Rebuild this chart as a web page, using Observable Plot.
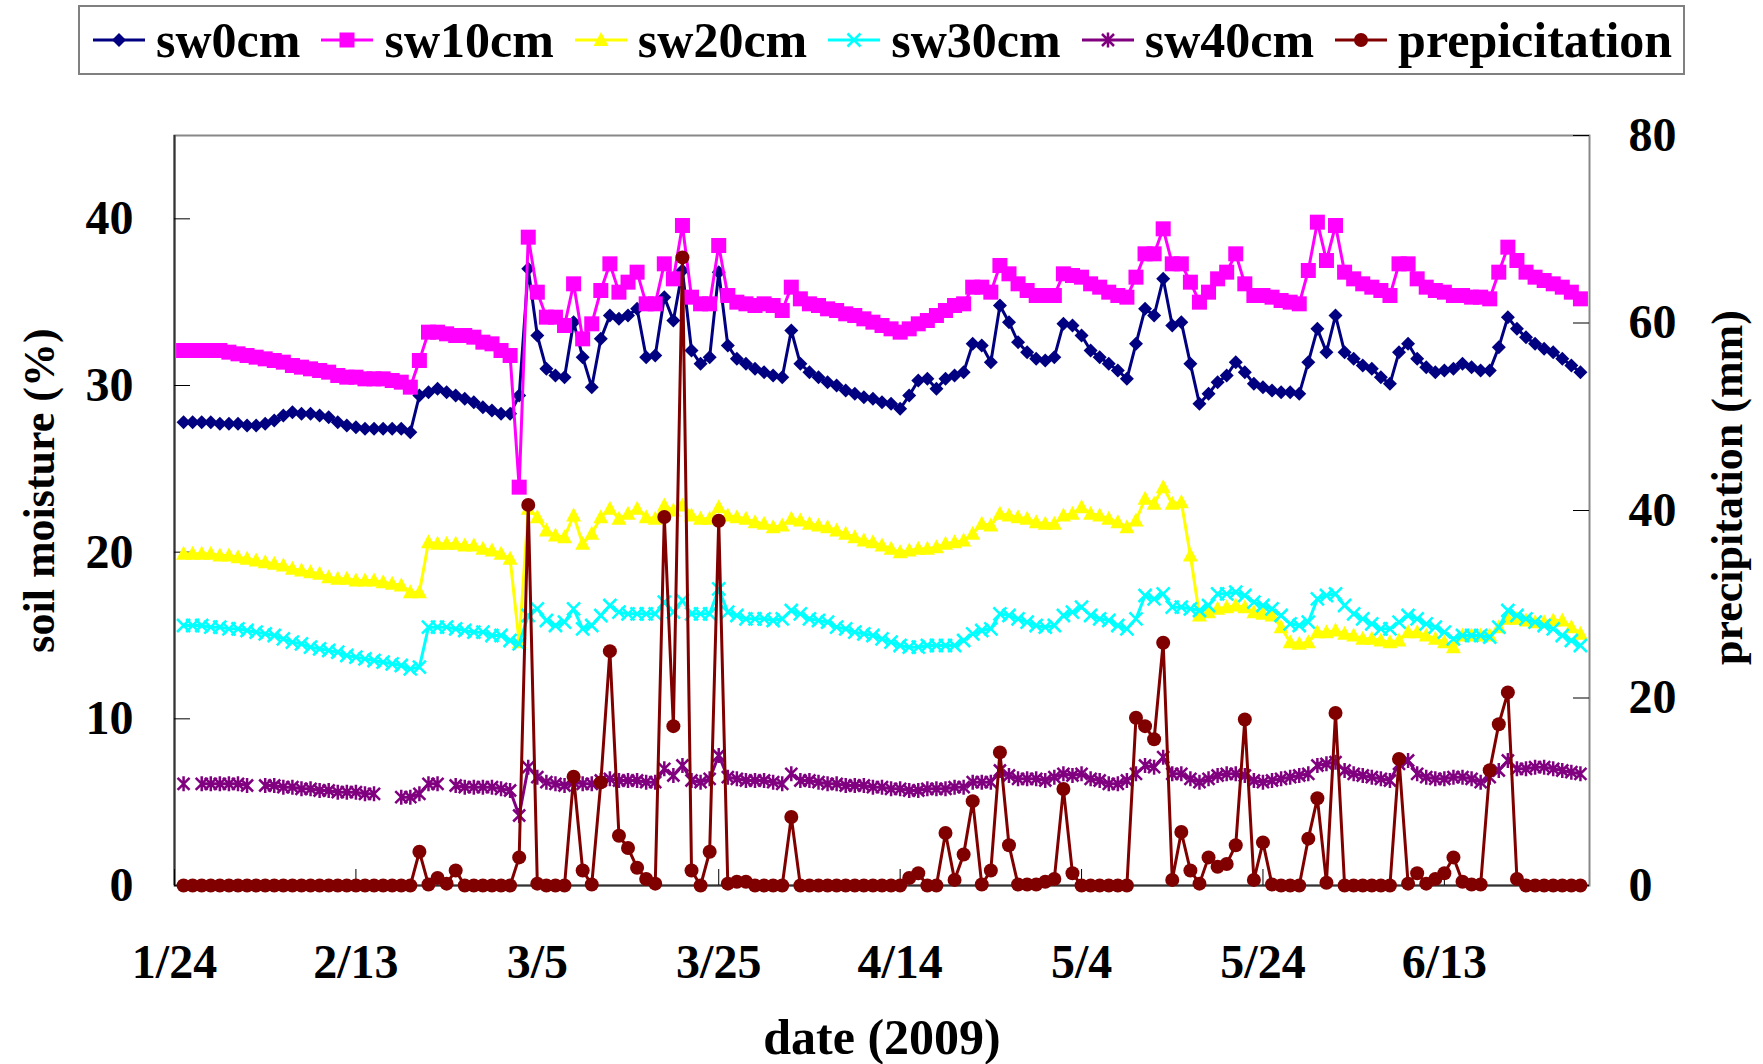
<!DOCTYPE html>
<html><head><meta charset="utf-8">
<script src="https://cdn.jsdelivr.net/npm/d3@7"></script>
<script src="https://cdn.jsdelivr.net/npm/@observablehq/plot@0.6"></script>
<style>
body{margin:0;background:#fff;}
#wrap{width:1763px;height:1064px;position:relative;overflow:hidden;background:#fff;font-family:'Liberation Serif','Times New Roman',serif;font-weight:bold;}
#legendBar{height:80px;position:relative;}
#legend{position:absolute;left:78px;top:5px;width:1607px;height:70px;box-sizing:border-box;border:2px solid #808080;display:flex;align-items:center;padding-left:13px;gap:21px;font-size:50px;line-height:1;}
.item{display:flex;align-items:center;gap:11px;}
.item svg{display:block;overflow:visible;}
</style></head><body>
<div id="wrap"><div id="legendBar"><div id="legend"></div></div><div id="chart"></div></div>
<script>
// ---- data (daily, starting 2009-01-25) ----
const startDate = "2009-01-25";
const sw0 = [27.8,27.8,27.8,27.8,27.7,27.7,27.7,27.6,27.6,27.7,
 27.9,28.2,28.4,28.3,28.3,28.2,28.1,27.8,27.6,27.5,
 27.4,27.4,27.4,27.4,27.4,27.2,29.4,29.6,29.8,29.6,
 29.4,29.2,29.0,28.7,28.5,28.3,28.3,29.4,37.0,33.0,
 31.0,30.6,30.5,33.8,31.7,29.9,32.8,34.2,34.0,34.2,
 34.6,31.7,31.8,35.3,33.9,36.9,32.1,31.3,31.7,36.8,
 32.4,31.6,31.3,31.0,30.8,30.6,30.5,33.3,31.3,30.8,
 30.5,30.2,30.0,29.7,29.5,29.3,29.2,29.0,28.9,28.6,
 29.4,30.3,30.4,29.8,30.4,30.6,30.8,32.5,32.4,31.4,
 34.8,33.8,32.6,32.0,31.6,31.5,31.7,33.7,33.6,33.0,
 32.1,31.7,31.3,30.9,30.4,32.5,34.6,34.2,36.4,33.6,
 33.8,31.3,28.9,29.5,30.2,30.6,31.4,30.8,30.1,29.9,
 29.7,29.6,29.6,29.5,31.4,33.4,32.0,34.2,32.0,31.6,
 31.2,31.0,30.5,30.1,32.0,32.5,31.6,31.1,30.8,30.9,
 31.0,31.3,31.1,30.9,30.9,32.3,34.1,33.4,32.9,32.5,
 32.2,32.0,31.6,31.2,30.8];
const sw10 = [32.1,32.1,32.1,32.1,32.1,32.0,31.9,31.8,31.7,31.6,
 31.5,31.4,31.2,31.1,31.0,30.9,30.8,30.6,30.5,30.5,
 30.4,30.4,30.4,30.3,30.2,29.9,31.5,33.2,33.2,33.1,
 33.0,33.0,32.9,32.6,32.5,32.1,31.8,23.9,38.9,35.6,
 34.1,34.1,33.6,36.1,32.8,33.7,35.7,37.3,35.6,36.2,
 36.8,34.9,34.9,37.3,36.4,39.6,35.3,34.9,34.9,38.4,
 35.4,35.0,34.9,34.8,34.9,34.8,34.5,35.9,35.2,34.9,
 34.8,34.6,34.5,34.3,34.2,34.0,33.8,33.6,33.4,33.2,
 33.4,33.7,33.9,34.2,34.5,34.8,34.9,35.9,35.9,35.6,
 37.2,36.7,36.1,35.7,35.4,35.4,35.4,36.7,36.6,36.5,
 36.1,35.9,35.6,35.4,35.3,36.5,37.9,37.9,39.4,37.3,
 37.3,36.2,35.0,35.6,36.4,36.8,37.9,36.1,35.4,35.4,
 35.3,35.1,35.0,34.9,36.9,39.8,37.5,39.6,36.8,36.4,
 36.1,35.9,35.7,35.4,37.3,37.3,36.4,35.9,35.7,35.6,
 35.4,35.4,35.3,35.3,35.2,36.8,38.3,37.5,36.8,36.5,
 36.3,36.1,35.9,35.6,35.2];
const sw20 = [19.9,19.9,19.9,19.9,19.8,19.8,19.7,19.6,19.5,19.4,
 19.3,19.2,19.0,18.9,18.8,18.7,18.5,18.4,18.4,18.3,
 18.3,18.3,18.2,18.1,18.0,17.6,17.6,20.6,20.5,20.5,
 20.5,20.4,20.4,20.2,20.1,19.9,19.6,14.6,22.6,22.1,
 21.3,21.0,20.9,22.2,20.5,21.1,22.1,22.6,22.0,22.3,
 22.6,22.1,22.0,22.8,22.5,22.8,22.2,22.0,22.0,22.7,
 22.2,22.1,22.0,21.8,21.7,21.5,21.6,22.0,21.9,21.7,
 21.6,21.5,21.3,21.1,20.9,20.7,20.6,20.4,20.2,20.0,
 20.1,20.2,20.2,20.3,20.5,20.6,20.7,21.1,21.7,21.6,
 22.3,22.2,22.1,22.0,21.8,21.7,21.7,22.2,22.3,22.7,
 22.3,22.2,22.0,21.8,21.5,21.9,23.2,22.9,23.9,22.9,
 23.0,19.8,16.2,16.4,16.6,16.7,16.8,16.7,16.4,16.3,
 16.2,15.5,14.6,14.5,14.6,15.2,15.2,15.3,15.1,15.0,
 14.8,14.8,14.7,14.6,14.7,15.2,15.2,15.0,14.8,14.6,
 14.3,15.0,15.0,15.0,15.0,15.5,16.0,16.0,15.9,15.8,
 15.8,15.9,15.9,15.5,15.1];
const sw30 = [15.6,15.6,15.6,15.5,15.5,15.4,15.4,15.3,15.2,15.1,
 15.0,14.8,14.6,14.5,14.3,14.2,14.1,14.0,13.8,13.7,
 13.6,13.5,13.4,13.3,13.2,13.0,13.1,15.5,15.5,15.5,
 15.4,15.3,15.2,15.2,15.0,15.0,14.7,14.5,16.2,16.6,
 15.9,15.6,15.8,16.6,15.4,15.6,16.2,16.8,16.4,16.3,
 16.3,16.3,16.3,17.0,16.4,17.1,16.3,16.3,16.3,17.8,
 16.4,16.2,16.0,16.0,16.0,15.9,16.0,16.5,16.3,16.0,
 15.9,15.8,15.5,15.4,15.2,15.1,15.0,14.8,14.6,14.4,
 14.3,14.3,14.4,14.4,14.4,14.4,14.7,15.1,15.3,15.4,
 16.3,16.2,16.0,15.8,15.6,15.5,15.6,16.2,16.4,16.7,
 16.2,16.0,15.9,15.6,15.4,16.0,17.4,17.2,17.5,16.7,
 16.7,16.6,16.5,16.8,17.5,17.5,17.6,17.4,17.0,16.8,
 16.6,16.2,15.7,15.6,15.8,17.2,17.4,17.5,16.8,16.3,
 16.0,15.7,15.4,15.4,15.8,16.2,16.0,15.7,15.5,15.2,
 14.8,15.0,15.0,15.0,14.9,15.5,16.5,16.2,16.0,15.8,
 15.6,15.4,15.0,14.7,14.4];
const sw40 = [6.1,null,6.1,6.1,6.1,6.1,6.1,6.0,null,6.0,
 6.0,5.9,5.9,5.8,5.8,5.7,5.7,5.6,5.6,5.6,
 5.5,5.5,null,null,5.3,5.3,5.5,6.1,6.1,null,
 6.0,5.9,5.9,5.9,5.9,5.8,5.7,4.2,7.1,6.5,
 6.2,6.1,6.0,6.2,6.1,6.1,6.3,6.4,6.3,6.3,
 6.3,6.2,6.2,7.0,6.6,7.2,6.3,6.2,6.4,7.8,
 6.5,6.4,6.3,6.3,6.3,6.2,6.1,6.7,6.3,6.3,
 6.2,6.1,6.1,6.0,6.0,6.0,5.9,5.9,5.8,5.8,
 5.7,5.7,5.8,5.8,5.8,5.9,5.9,6.2,6.2,6.2,
 6.9,6.6,6.4,6.4,6.4,6.3,6.5,6.7,6.6,6.7,
 6.4,6.3,6.1,6.1,6.3,6.7,7.2,7.1,7.7,6.7,
 6.7,6.4,6.2,6.4,6.6,6.7,6.7,6.6,6.3,6.2,
 6.3,6.4,6.5,6.6,6.7,7.2,7.3,7.4,6.9,6.7,
 6.6,6.5,6.4,6.3,7.3,7.5,6.7,6.5,6.4,6.4,
 6.5,6.5,6.4,6.2,6.5,6.9,7.5,7.0,7.0,7.1,
 7.1,7.0,6.9,6.8,6.7];
const precip = [0,0,0,0,0,0,0,0,0,0,
 0,0,0,0,0,0,0,0,0,0,
 0,0,0,0,0,0,3.6,0.1,0.8,0.2,
 1.6,0,0,0,0,0,0,3.0,40.6,0.2,
 0,0,0,11.6,1.6,0.1,11.0,25.0,5.3,4.0,
 1.9,0.7,0.2,39.3,17.0,67.0,1.6,0,3.6,38.9,
 0.2,0.4,0.4,0,0,0,0,7.3,0,0,
 0,0,0,0,0,0,0,0,0,0,
 0.8,1.3,0,0,5.6,0.6,3.3,9.0,0.1,1.6,
 14.2,4.3,0.1,0.1,0.1,0.4,0.7,10.3,1.3,0,
 0,0,0,0,0,17.9,17.0,15.6,25.9,0.6,
 5.7,1.6,0.2,3.0,2.0,2.3,4.3,17.7,0.6,4.6,
 0.1,0,0,0,5.0,9.3,0.3,18.4,0,0,
 0,0,0,0,13.5,0.2,1.3,0.2,0.7,1.3,
 3.0,0.4,0.1,0.1,12.3,17.2,20.6,0.7,0,0,
 0,0,0,0,0];

const seriesNames = ["sw0cm","sw10cm","sw20cm","sw30cm","sw40cm","prepicitation"];
const seriesColors = ["#000080","#FF00FF","#FFFF00","#00FFFF","#800080","#800000"];
const xTickDates = ["2009-01-24","2009-02-13","2009-03-05","2009-03-25","2009-04-14","2009-05-04","2009-05-24","2009-06-13"];
const xTickLabels = ["1/24","2/13","3/5","3/25","4/14","5/4","5/24","6/13"];
const xDomainStr = ["2009-01-24","2009-06-29"];
const yTicks = [0,10,20,30,40];
const yMax = 45;
const rightTicks = [0,20,40,60,80];
const rightMax = 80;

// ---- symbols (Excel-like markers) ----
const symDiamond = {draw(c){const h=7;c.moveTo(0,-h);c.lineTo(h,0);c.lineTo(0,h);c.lineTo(-h,0);c.closePath();}};
const symSquare = {draw(c){c.rect(-7.5,-7.5,15,15);}};
const symTriangle = {draw(c){c.moveTo(0,-8);c.lineTo(7.5,6);c.lineTo(-7.5,6);c.closePath();}};
const symX = {draw(c){const h=6.5;c.moveTo(-h,-h);c.lineTo(h,h);c.moveTo(h,-h);c.lineTo(-h,h);}};
const symStar = {draw(c){const h=6;c.moveTo(-h,-h);c.lineTo(h,h);c.moveTo(h,-h);c.lineTo(-h,h);c.moveTo(0,-7.5);c.lineTo(0,7.5);}};
const symCircle = {draw(c){c.moveTo(7,0);c.arc(0,0,7,0,2*Math.PI);}};

const keys = ["sw0","sw10","sw20","sw30","sw40","precip"];
const symbols = [symDiamond,symSquare,symTriangle,symX,symStar,symCircle];
const filled = [true,true,true,false,false,true];

// ---- build table ----
const DAY = 864e5;
const t0 = Date.parse(startDate + "T00:00:00Z");
const cols = {sw0, sw10, sw20, sw30, sw40, precip};
const data = sw0.map((_, i) => {
  const row = {date: new Date(t0 + i * DAY)};
  for (const k of keys) row[k] = cols[k][i] == null ? NaN : cols[k][i];
  return row;
});
const toLeft = mm => mm * yMax / rightMax;
const xDomain = xDomainStr.map(s => new Date(s + "T00:00:00Z"));
const xTicks = xTickDates.map(s => new Date(s + "T00:00:00Z"));

// ---- legend ----
const legend = document.getElementById("legend");
seriesNames.forEach((name, i) => {
  const p = d3.path(); symbols[i].draw(p, 0);
  const col = seriesColors[i];
  const div = document.createElement("div");
  div.className = "item";
  div.innerHTML = `<svg width="52" height="24"><line x1="0" x2="52" y1="12" y2="12" stroke="${col}" stroke-width="3"/>` +
    `<path transform="translate(26,12)" d="${p.toString()}" fill="${filled[i] ? col : "none"}" stroke="${col}" stroke-width="${filled[i] ? 0 : 2.5}"/></svg><span>${name}</span>`;
  legend.appendChild(div);
});

// ---- chart ----
const W = 1763, H = 984, mL = 174, mR = 174, mT = 55, mB = 179;
const innerW = W - mL - mR, innerH = H - mT - mB;
const font = "'Liberation Serif','Times New Roman',serif";

const seriesMarks = [];
keys.forEach((k, i) => {
  const col = seriesColors[i];
  const yAcc = k === "precip" ? (d => toLeft(d[k])) : (d => d[k]);
  seriesMarks.push(Plot.line(data, {x: "date", y: yAcc, stroke: col, strokeWidth: 3}));
  seriesMarks.push(Plot.dot(data, {x: "date", y: yAcc, symbol: symbols[i], r: 6,
    fill: filled[i] ? col : "none", stroke: filled[i] ? "none" : col, strokeWidth: filled[i] ? 0 : 2.5}));
});

const chart = Plot.plot({
  width: W, height: H, marginLeft: mL, marginRight: mR, marginTop: mT, marginBottom: mB,
  style: {fontFamily: font, fontWeight: "bold", fontSize: "48px", background: "white", overflow: "visible", color: "#000"},
  x: {type: "utc", domain: xDomain},
  y: {domain: [0, yMax]},
  marks: [
    Plot.frame({stroke: "#888", strokeWidth: 2}),
    Plot.ruleX([xDomain[0]], {stroke: "#333", strokeWidth: 2}),
    Plot.ruleY([0], {stroke: "#333", strokeWidth: 2}),
    Plot.tickY(yTicks, {y: d => d, insetRight: innerW - 16, stroke: "#000"}),
    Plot.tickY(rightTicks, {y: d => toLeft(d), insetLeft: innerW - 16, stroke: "#000"}),
    Plot.tickX(xTicks, {x: d => d, insetTop: innerH - 16, stroke: "#000"}),
    Plot.axisY(yTicks, {anchor: "left", tickSize: 0, tickPadding: 41, fontSize: 48, label: null, fill: "#000"}),
    Plot.axisY(rightTicks.map(toLeft), {anchor: "right", tickSize: 0, tickPadding: 39, fontSize: 48, label: null, fill: "#000",
      tickFormat: v => String(Math.round(v * rightMax / yMax))}),
    Plot.axisX(xTicks, {anchor: "bottom", tickSize: 0, tickPadding: 58, fontSize: 48, label: null, fill: "#000",
      tickFormat: d => xTickLabels[xTicks.findIndex(t => +t === +d)]}),
    Plot.text(["soil moisture (%)"], {frameAnchor: "left", dx: -135, dy: -20, rotate: -90, fontSize: 44, fontWeight: "bold", textAnchor: "middle", lineAnchor: "middle", fill: "#000"}),
    Plot.text(["precipitation (mm)"], {frameAnchor: "right", dx: 138, dy: -23, rotate: -90, fontSize: 44, fontWeight: "bold", textAnchor: "middle", lineAnchor: "middle", fill: "#000"}),
    Plot.text(["date (2009)"], {frameAnchor: "bottom", dy: 152, fontSize: 50, fontWeight: "bold", textAnchor: "middle", lineAnchor: "middle", fill: "#000"}),
    ...seriesMarks
  ]
});
document.getElementById("chart").appendChild(chart);
</script></body></html>
